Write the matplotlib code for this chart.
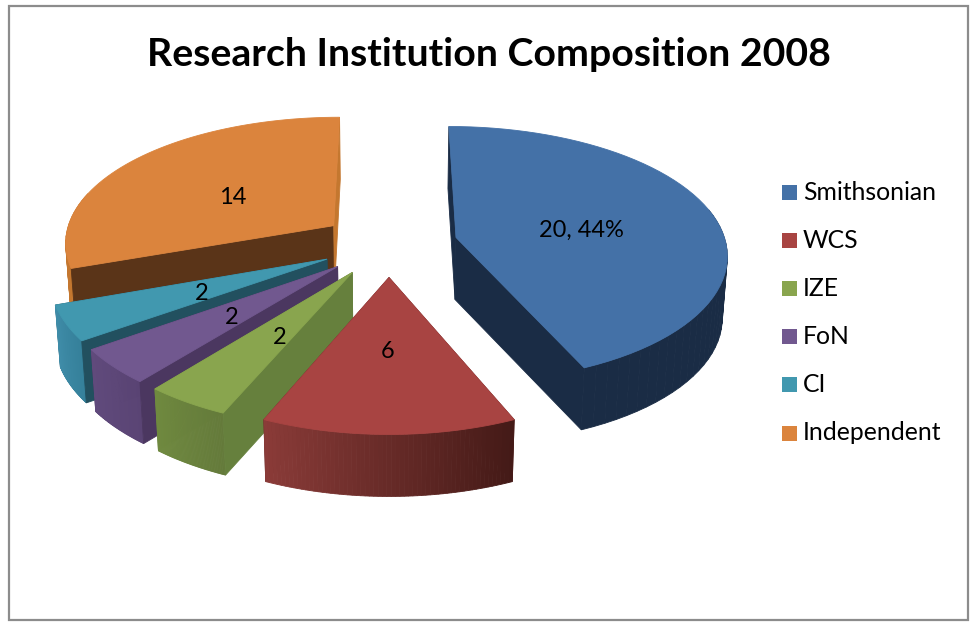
import numpy as np
import matplotlib
matplotlib.use('Agg')
import matplotlib.pyplot as plt
from matplotlib.colors import to_rgb
from matplotlib.patches import Rectangle

# 数据
categories = ['Smithsonian', 'WCS', 'IZE', 'FoN', 'CI', 'Independent']
values = [20, 6, 2, 2, 2, 14]
data_labels = ['20, 44%', '6', '2', '2', '2', '14']
title = 'Research Institution Composition 2008'

# 颜色
top_colors = ['#4471a7', '#a84442', '#89a54e', '#71588f', '#4198af', '#db843d']
radial_start = ['#1a2c45', '#5a2322', '#66803d', '#4b3760', '#22505f', '#5a3418']
radial_end = ['#1a2c45', '#5a2322', '#66803d', '#4b3760', '#22505f', '#c4772f']
arc_start = ['#1a2c45', '#441a17', '#647a3a', '#5a4474', '#35809a', '#c4772f']
arc_end = ['#1a2c45', '#8a3b38', '#708a40', '#604a7c', '#3f8ca8', '#c4772f']

# 投影参数
CX, CY = 389, 244
FX, FY = 270, 127
KX, KY = 0.12, 0.13
EXPLODE = 0.255
DEPTH = 62
SHRINK = 0.985


def project(u, v):
    """把饼图平面坐标投影到屏幕像素"""
    return CX + FX * u / (1 + KX * v), CY - FY * v / (1 + KY * v)


def lower(x, y):
    """顶面的点对应的底面点"""
    return CX + (x - CX) * SHRINK, y + DEPTH


def wall(ax, p, q, color):
    px, py = p
    qx, qy = q
    bx1, by1 = lower(px, py)
    bx2, by2 = lower(qx, qy)
    ax.fill([px, qx, bx2, bx1], [py, qy, by2, by1], color=color, lw=0.6)


def faces_viewer(apex, corner, inner):
    """径向面是否朝向观察者：顶面在这条边的上方"""
    dx, dy = corner[0] - apex[0], corner[1] - apex[1]
    nx, ny = (dy, -dx) if dx > 0 else (-dy, dx)
    return (inner[0] - apex[0]) * nx + (inner[1] - apex[1]) * ny > 0


fig = plt.figure(figsize=(9.71, 6.23), dpi=100)
plt.rcParams['font.family'] = ['Lato', 'DejaVu Sans']
ax = fig.add_axes([0, 0, 1, 1])
ax.set_xlim(0, 971)
ax.set_ylim(623, 0)
ax.axis('off')

ax.add_patch(Rectangle((9, 6), 959, 614, fill=False, ec='#8c8c8c', lw=1.6))

fracs = np.array(values) / sum(values) * 2 * np.pi
ends = np.cumsum(fracs)
starts = ends - fracs

# 从后往前画
for i in [5, 4, 3, 2, 1, 0]:
    mid = (starts[i] + ends[i]) / 2
    u0 = EXPLODE * np.sin(mid)
    v0 = EXPLODE * np.cos(mid)
    t = np.linspace(starts[i], ends[i], 60)
    xs, ys = project(u0 + np.sin(t), v0 + np.cos(t))
    apex = project(u0, v0)
    inner = (xs[30], ys[30])
    radials = [((xs[0], ys[0]), radial_start[i]), ((xs[-1], ys[-1]), radial_end[i])]

    # 背面的径向面先画，朝前的径向面在外弧之后画
    for corner, color in radials:
        if not faces_viewer(apex, corner, inner):
            wall(ax, apex, corner, color)

    c0 = np.array(to_rgb(arc_start[i]))
    c1 = np.array(to_rgb(arc_end[i]))
    for j in range(len(t) - 1):
        if np.cos(t[j]) < 0.25:
            f = j / (len(t) - 2)
            wall(ax, (xs[j], ys[j]), (xs[j + 1], ys[j + 1]), tuple(c0 + (c1 - c0) * f))

    for corner, color in radials:
        if faces_viewer(apex, corner, inner):
            wall(ax, apex, corner, color)

    ax.fill(np.r_[apex[0], xs], np.r_[apex[1], ys], color=top_colors[i], lw=0.6)

# 数据标签
label_pos = [(581, 230), (388, 352), (280, 337), (232, 318), (202, 294), (233, 198)]
for txt, (x, y) in zip(data_labels, label_pos):
    ax.text(x, y, txt, fontsize=17, ha='center', va='center', color='black')

# 图例
for i, name in enumerate(categories):
    y = 192 + i * 48.2
    ax.add_patch(Rectangle((782, y - 7.5), 15, 15, fc=top_colors[i], ec='none'))
    ax.text(803, y, name, fontsize=17.8, ha='left', va='center', color='black')

ax.text(489, 54, title, fontsize=28.3, fontweight='bold', ha='center', va='center', color='black')

fig.savefig('out.png', dpi=100)
